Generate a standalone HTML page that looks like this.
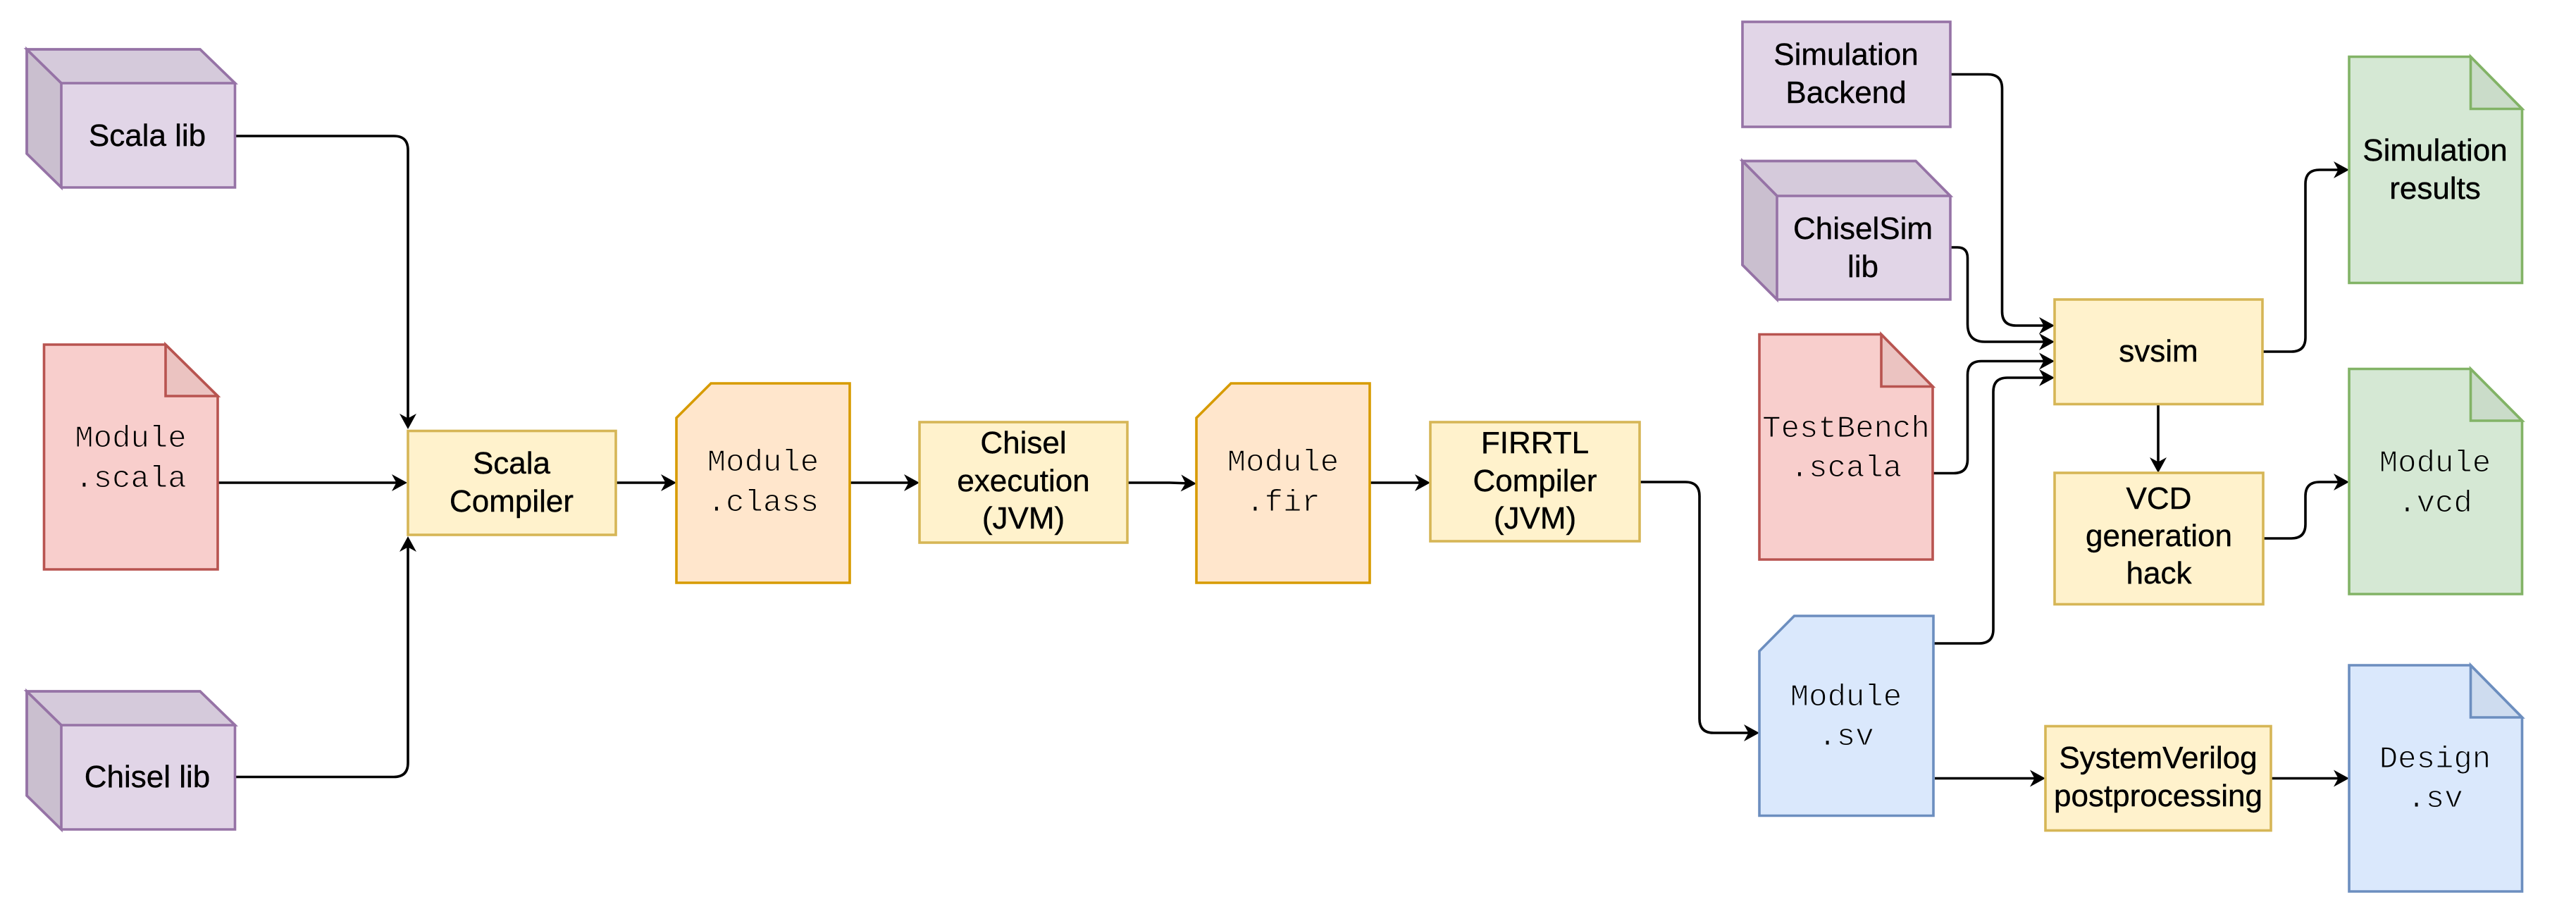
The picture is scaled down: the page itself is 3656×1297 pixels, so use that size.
<!DOCTYPE html>
<html>
<head>
<meta charset="utf-8">
<style>
html,body{margin:0;padding:0;background:#fff;width:3656px;height:1297px;overflow:hidden}
svg{display:block}
text{font-size:44px;text-anchor:middle;fill:#000}
.s text{stroke:#000;stroke-width:.4}
.m{font-family:"Liberation Mono",monospace}
.s{font-family:"Liberation Sans",sans-serif}
.m text{stroke-width:1.1}
.mr text{stroke:#f8cecc}
.mo text{stroke:#ffe6cc}
.mb text{stroke:#dae8fc}
.mg text{stroke:#d5e8d4}
.c{fill:none;stroke:#000;stroke-width:3.6}
.sh{stroke-width:3.6;stroke-linejoin:miter}
.p{fill:#e1d5e7;stroke:#9673a6}
.r{fill:#f8cecc;stroke:#b85450}
.y{fill:#fff2cc;stroke:#d6b656}
.o{fill:#ffe6cc;stroke:#d79b00}
.b{fill:#dae8fc;stroke:#6c8ebf}
.g{fill:#d5e8d4;stroke:#82b366}
.d5{fill:#000;fill-opacity:.05;stroke:inherit}
.d10{fill:#000;fill-opacity:.1;stroke:inherit}
</style>
</head>
<body>
<svg width="3656" height="1297" viewBox="0 0 3656 1297" xmlns="http://www.w3.org/2000/svg">
<defs>
<marker id="a" markerUnits="userSpaceOnUse" markerWidth="30" markerHeight="30" refX="16" refY="15" orient="auto" viewBox="0 0 30 30">
<path d="M2,3 L24,15 L2,27 L8.500,15 Z" fill="#000" stroke="none"/>
</marker>
</defs>

<!-- connectors -->
<g class="c">
<path marker-end="url(#a)" d="M335,193 H559 Q579,193 579,213 V601"/>
<path marker-end="url(#a)" d="M310,685 H570"/>
<path marker-end="url(#a)" d="M335,1102.5 H559 Q579,1102.5 579,1082.5 V769"/>
<path marker-end="url(#a)" d="M875,685 H952"/>
<path marker-end="url(#a)" d="M1207,685 H1297"/>
<path marker-end="url(#a)" d="M1600,685 H1660 L1690,686"/>
<path marker-end="url(#a)" d="M1945,685 H2022"/>
<path marker-end="url(#a)" d="M2327,684 H2392 Q2412,684 2412,704 V1020 Q2412,1040 2432,1040 H2489"/>
<path marker-end="url(#a)" d="M2769,105.5 H2821 Q2841.500,105.5 2841.500,125.5 V442 Q2841.500,462 2861,462 H2908"/>
<path marker-end="url(#a)" d="M2769,351 H2778 Q2792.500,351 2792.500,366 V460 Q2792.500,485 2817,485 H2908"/>
<path marker-end="url(#a)" d="M2744,671.500 H2773 Q2792.500,671.500 2792.500,652 V532 Q2792.500,512.500 2812,512.500 H2908"/>
<path marker-end="url(#a)" d="M2745,913 H2809 Q2829,913 2829,893 V556 Q2829,536 2849,536 H2908"/>
<path marker-end="url(#a)" d="M3212,499 H3252 Q3272,499 3272,479 V261 Q3272,241 3292,241 H3326"/>
<path marker-end="url(#a)" d="M3063,574 V663"/>
<path marker-end="url(#a)" d="M3213,764 H3252 Q3272,764 3272,744 V704 Q3272,684 3292,684 H3326"/>
<path marker-end="url(#a)" d="M2746,1104.500 H2895"/>
<path marker-end="url(#a)" d="M3223,1104.500 H3326"/>
</g>

<!-- cubes -->
<g class="sh p">
<path d="M38,70 H284 L333.500,118 V266 H87 L38,218 Z"/>
<path class="d5" d="M38,70 H284 L333.500,118 H87 Z"/>
<path class="d10" d="M38,70 L87,118 V266 L38,218 Z"/>
</g>
<g class="sh p">
<path d="M38,981 H284 L333.500,1029 V1177 H87 L38,1129 Z"/>
<path class="d5" d="M38,981 H284 L333.500,1029 H87 Z"/>
<path class="d10" d="M38,981 L87,1029 V1177 L38,1129 Z"/>
</g>
<g class="sh p">
<path d="M2473,228.500 H2719 L2768,278 V425 H2522 L2473,376 Z"/>
<path class="d5" d="M2473,228.500 H2719 L2768,278 H2522 Z"/>
<path class="d10" d="M2473,228.500 L2522,278 V425 L2473,376 Z"/>
</g>

<!-- rectangles -->
<rect class="sh p" x="2473" y="31" width="295" height="149"/>
<rect class="sh y" x="579" y="611.500" width="295" height="147.500"/>
<rect class="sh y" x="1305" y="599" width="295" height="171"/>
<rect class="sh y" x="2030" y="599" width="297" height="169"/>
<rect class="sh y" x="2916" y="425" width="295" height="148.500"/>
<rect class="sh y" x="2916" y="671" width="296" height="186.500"/>
<rect class="sh y" x="2903" y="1030.500" width="320" height="148"/>

<!-- chamfered cards -->
<path class="sh o" d="M1009,544 H1206 V827 H960 V593 Z"/>
<path class="sh o" d="M1747,544 H1944 V827 H1698 V593 Z"/>
<path class="sh b" d="M2546.500,874 H2744 V1157.500 H2497 V924 Z"/>

<!-- notes -->
<g class="sh r">
<path d="M62.500,489 H235 L309,562 V808 H62.500 Z"/>
<path class="d5" d="M235,489 V562 H309 Z"/>
</g>
<g class="sh r">
<path d="M2497,474.500 H2670 L2743,548.500 V794 H2497 Z"/>
<path class="d5" d="M2670,474.500 V548.500 H2743 Z"/>
</g>
<g class="sh g">
<path d="M3334,80.500 H3506.500 L3579.500,154.500 V401.500 H3334 Z"/>
<path class="d5" d="M3506.500,80.500 V154.500 H3579.500 Z"/>
</g>
<g class="sh g">
<path d="M3334,523.500 H3506.500 L3579.500,597 V843 H3334 Z"/>
<path class="d5" d="M3506.500,523.500 V597 H3579.500 Z"/>
</g>
<g class="sh b">
<path d="M3334,944 H3506.500 L3579.500,1018 V1265 H3334 Z"/>
<path class="d5" d="M3506.500,944 V1018 H3579.500 Z"/>
</g>

<!-- labels -->
<g class="s">
<text x="209" y="207">Scala lib</text>
<text x="209" y="1117">Chisel lib</text>
<text x="726" y="672">Scala</text>
<text x="726" y="726">Compiler</text>
<text x="1452.500" y="643">Chisel</text>
<text x="1452.500" y="697">execution</text>
<text x="1452.500" y="750">(JVM)</text>
<text x="2178.500" y="643">FIRRTL</text>
<text x="2178.500" y="697">Compiler</text>
<text x="2178.500" y="750">(JVM)</text>
<text x="2620" y="92">Simulation</text>
<text x="2620" y="146">Backend</text>
<text x="2644" y="339">ChiselSim</text>
<text x="2644" y="393">lib</text>
<text x="3063.500" y="513">svsim</text>
<text x="3456" y="228">Simulation</text>
<text x="3456" y="282">results</text>
<text x="3064" y="722">VCD</text>
<text x="3064" y="775">generation</text>
<text x="3064" y="828">hack</text>
<text x="3063" y="1090">SystemVerilog</text>
<text x="3063" y="1144">postprocessing</text>
</g>
<g class="m mr">
<text x="185.500" y="634">Module</text>
<text x="185.500" y="691">.scala</text>
<text x="2620" y="620">TestBench</text>
<text x="2620" y="676">.scala</text>
</g>
<g class="m mo">
<text x="1083" y="668">Module</text>
<text x="1083" y="725">.class</text>
<text x="1821" y="668">Module</text>
<text x="1821" y="725">.fir</text>
</g>
<g class="m mb">
<text x="2620" y="1001">Module</text>
<text x="2620" y="1057">.sv</text>
<text x="3456" y="1089">Design</text>
<text x="3456" y="1145">.sv</text>
</g>
<g class="m mg">
<text x="3456" y="669">Module</text>
<text x="3456" y="726">.vcd</text>
</g>
</svg>
</body>
</html>
